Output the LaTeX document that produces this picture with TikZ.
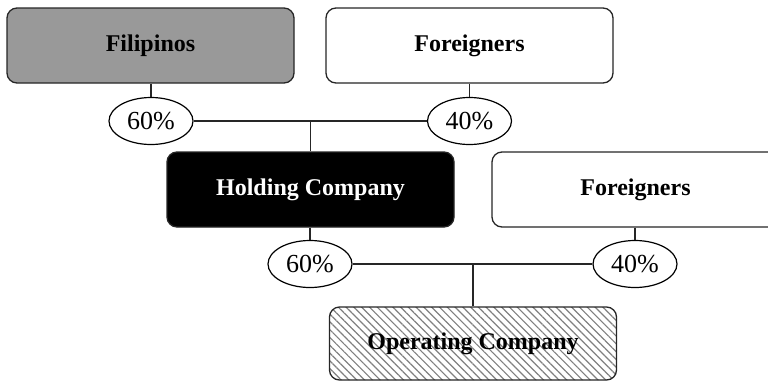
\documentclass[tikz,border=0pt]{standalone}
\usepackage{fontspec}
\setmainfont{Liberation Serif}
\usetikzlibrary{shapes.geometric,patterns.meta}
\begin{document}
\begin{tikzpicture}[x=1pt,y=-1pt,
  box/.style={draw=black!85,line width=1.3pt,rounded corners=10pt,
    minimum width=287pt,minimum height=75pt,inner sep=0pt,
    font=\bfseries\fontsize{24}{27}\selectfont},
  pct/.style={draw=black,line width=1.2pt,ellipse,minimum width=84pt,
    minimum height=47pt,inner sep=0pt,fill=white,
    font=\fontsize{26}{28}\selectfont},
  link/.style={draw=black!85,line width=1.2pt}]
\useasboundingbox (0,0) rectangle (768,381);
\clip (0,0) rectangle (768,381);
% owners and companies
\node[box,fill=black!40] (fil) at (150.5,45.5) {Filipinos};
\node[box,fill=white] (for1) at (469.5,45.5) {Foreigners};
\node[box,fill=black,text=white] (hold) at (310.5,189.5) {Holding Company};
\node[box,fill=white] (for2) at (635.5,189.5) {Foreigners};
\node[box,minimum height=73pt,
  pattern={Lines[angle=-45,distance=5.5pt,line width=1.2pt]},
  pattern color=black!50] (op) at (473,343.5) {Operating Company};
% ownership shares
\node[pct] (p1) at (151,121) {60\%};
\node[pct] (p2) at (469.5,121) {40\%};
\node[pct] (p3) at (310,264) {60\%};
\node[pct] (p4) at (635,264) {40\%};
% connectors
\draw[link] (fil.south -| p1.north) -- (p1.north);
\draw[link] (for1.south -| p2.north) -- (p2.north);
\draw[link] (p1.east) -- (p2.west);
\coordinate (j1) at (hold.north |- p1.east);
\draw[link] (j1) -- (hold.north);
\draw[link] (hold.south -| p3.north) -- (p3.north);
\draw[link] (for2.south -| p4.north) -- (p4.north);
\draw[link] (p3.east) -- (p4.west);
\coordinate (j2) at (op.north |- p3.east);
\draw[link] (j2) -- (op.north);
\end{tikzpicture}
\end{document}
